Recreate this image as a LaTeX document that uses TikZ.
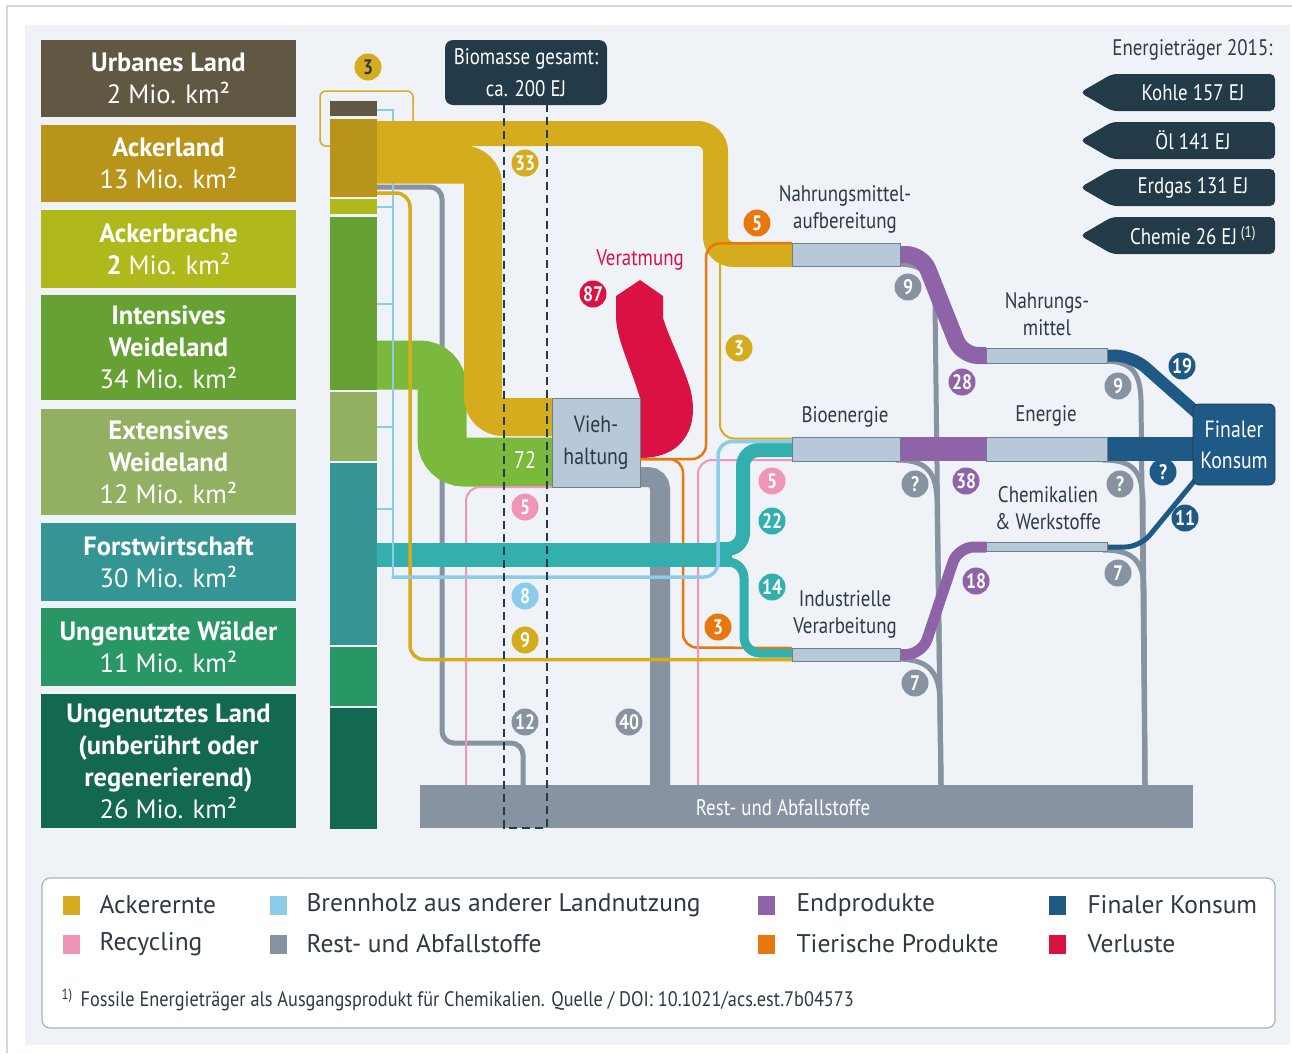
\documentclass[tikz,border=0pt]{standalone}
\usepackage{fontspec}
\setmainfont{PT Sans}
\newfontfamily\cond[FakeStretch=0.84]{PT Sans}
\newfontfamily\condw[FakeStretch=0.87]{PT Sans}
\usetikzlibrary{calc}
\definecolor{bg}{HTML}{EFF3F7}
\definecolor{frame}{HTML}{D3D8DD}
\definecolor{urban}{HTML}{615843}
\definecolor{acker}{HTML}{B8941A}
\definecolor{brache}{HTML}{B0B91C}
\definecolor{intens}{HTML}{66A134}
\definecolor{extens}{HTML}{93AF62}
\definecolor{forst}{HTML}{349594}
\definecolor{wald}{HTML}{299765}
\definecolor{unland}{HTML}{136852}
\definecolor{gold}{HTML}{D4AC1E}
\definecolor{lgreen}{HTML}{7AB93B}
\definecolor{tealc}{HTML}{33B0AE}
\definecolor{lblue}{HTML}{8CCBEA}
\definecolor{pinkc}{HTML}{EE95B8}
\definecolor{orangec}{HTML}{E8770F}
\definecolor{redc}{HTML}{DA1143}
\definecolor{purplec}{HTML}{8E63A7}
\definecolor{dblue}{HTML}{1F5A87}
\definecolor{greyc}{HTML}{8793A0}
\definecolor{navy}{HTML}{233A48}
\definecolor{boxfill}{HTML}{B7C8D8}
\definecolor{boxline}{HTML}{6F7E8C}
\definecolor{txt}{HTML}{2D3A44}
\definecolor{legline}{HTML}{A9B2BA}
\tikzset{
  lab/.style={circle, fill=#1, text=white, minimum size=27pt, inner sep=0pt, font=\cond\bfseries\fontsize{21}{21}\selectfont},
  pbar/.style={draw=boxline, fill=boxfill, line width=0.8pt, inner sep=0pt, outer sep=0pt},
  landbox/.style={fill=#1, text=white, minimum width=255pt, align=center, inner sep=0pt, font=\fontsize{26.5}{32}\selectfont},
  ptext/.style={text=txt, align=center, font=\cond\fontsize{22.5}{27}\selectfont},
  legsq/.style={fill=#1, minimum width=17pt, minimum height=19pt, inner sep=0pt},
  legtxt/.style={anchor=west, text=txt, font=\fontsize{25.5}{25.5}\selectfont},
  etext/.style={text=white, font=\cond\fontsize{22.5}{22.5}\selectfont},
  arrowshape/.style={fill=navy, rounded corners=5pt},
}
\begin{document}
\begin{tikzpicture}[x=1pt,y=-1pt]
\useasboundingbox (0,0) rectangle (1292,1053);
\fill[white] (0,0) rectangle (1292,1053);
\draw[frame, line width=1.5] (7,1053) -- (7,6) -- (1292,6);
\fill[bg] (25,25) rectangle (1290,1045);

% ---------- land boxes
\node[landbox=urban, minimum height=77pt] (lUrban) at (168.5,78.5) {\textbf{Urbanes Land}\\2 Mio. km²};
\node[landbox=acker, minimum height=77pt] (lAcker) at (168.5,163.5) {\textbf{Ackerland}\\13 Mio. km²};
\node[landbox=brache, minimum height=78pt] (lBrache) at (168.5,249) {\textbf{Ackerbrache}\\\textbf{2} Mio. km²};
\node[landbox=intens, minimum height=105pt] (lIntens) at (168.5,347.5) {\textbf{Intensives}\\\textbf{Weideland}\\34 Mio. km²};
\node[landbox=extens, minimum height=106pt] (lExtens) at (168.5,462) {\textbf{Extensives}\\\textbf{Weideland}\\12 Mio. km²};
\node[landbox=forst, minimum height=78pt] (lForst) at (168.5,562) {\textbf{Forstwirtschaft}\\30 Mio. km²};
\node[landbox=wald, minimum height=78pt] (lWald) at (168.5,647) {\textbf{Ungenutzte Wälder}\\11 Mio. km²};
\node[landbox=unland, minimum height=134pt] (lLand) at (168.5,761) {\textbf{Ungenutztes Land}\\\textbf{(unberührt oder}\\\textbf{regenerierend)}\\26 Mio. km²};

% ---------- urban outline + label
\draw[gold, line width=1.5, rounded corners=6] (320,91) rectangle (413,146);
\node[lab=gold, text=txt] (n3u) at (368,67) {3};

% ---------- column
\fill[urban] (330,101) rectangle (377,116);
\fill[acker] (330,119) rectangle (377,197);
\fill[brache] (330,199) rectangle (377,214);
\fill[intens] (330,217) rectangle (377,390);
\fill[extens] (330,392) rectangle (377,461);
\fill[forst] (330,463) rectangle (377,645);
\fill[wald] (330,647) rectangle (377,706);
\fill[unland] (330,708) rectangle (377,829);

% ---------- process nodes
\node[pbar, minimum width=108pt, minimum height=23pt] (nma) at (846,254.5) {};
\node[pbar, minimum width=121pt, minimum height=15pt] (nm) at (1046.5,355.5) {};
\node[pbar, minimum width=108pt, minimum height=24pt] (bio) at (846,449) {};
\node[pbar, minimum width=121pt, minimum height=24pt] (ene) at (1046.5,449) {};
\node[pbar, minimum width=121pt, minimum height=9pt] (chem) at (1046.5,547) {};
\node[pbar, minimum width=108pt, minimum height=13pt] (ind) at (846,654.5) {};
\node[fill=greyc, minimum width=773pt, minimum height=43pt, inner sep=0pt] (rest) at (806.5,806.5) {};

% ---------- column source points
\coordinate (sGoldUp) at (377,133.5);
\coordinate (sGoldLow) at (377,164.5);
\coordinate (sGrey) at (377,187);
\coordinate (sGoldThin) at (377,193);
\coordinate (sGreen) at (377,365);
\coordinate (sTeal) at (377,555);
\coordinate (sBlue) at (393,109.25);

% ---------- grey flows (behind)
\draw[greyc, line width=5, rounded corners=12] (sGrey) -- (442,187) -- (442,743) -- (523,743) -- (523,0 |- rest.north);

% ---------- big bands
\draw[lgreen, line width=49, rounded corners=22] (sGreen) -- (442,365) -- (442,462) -- (575,462);
\foreach \yy in {110,207,304,427,509} \draw[lblue, line width=1.5] (377,\yy) -- (393,\yy);
\draw[lblue, line width=1.8] (sBlue) -- (393,577);
\draw[gold, line width=38, rounded corners=20] (sGoldLow) -- (483,164.5) -- (483,417) -- (575,417);
\draw[gold, line width=25, rounded corners=18] (sGoldUp) -- (715.5,133.5) -- (715.5,254.5) -- (nma.west);

% Viehhaltung outputs
\draw[greyc, line width=20, rounded corners=12] (630,477) -- (660,477) -- (660,0 |- rest.north);
\fill[redc] (640,398) .. controls (630,365) and (617,340) .. (616,318) -- (616,296) -- (640,280) -- (663,296) -- (663,318) .. controls (670,340) and (683,365) .. (690,388) .. controls (700,425) and (685,457) .. (642,458) -- (630,458) -- (630,398) -- cycle;
\node[pbar, minimum width=88pt, minimum height=89pt, align=center, text=txt, font=\cond\fontsize{23.5}{32}\selectfont] (vieh) at (596,442.5) {Vieh-\\haltung};

\draw[orangec, line width=2.5, rounded corners=14] (vieh.east |- 0,459) -- (706,459) -- (706,243.5) -- (nma.north west);
\draw[orangec, line width=2.5, rounded corners=14] (vieh.east |- 0,459) -- (683,459) -- (683,647.5) -- (ind.north west);
\draw[gold, line width=2, rounded corners=14] (720,262) -- (720,438.5) -- (bio.north west |- 0,438.5);
\draw[pinkc, line width=2, rounded corners=14] (466,0 |- rest.north) -- (466,487) -- (vieh.south west);
\draw[pinkc, line width=2, rounded corners=14] (698,0 |- rest.north) -- (698,460) -- (bio.south west |- 0,460);

% teal
\draw[tealc, line width=24] (sTeal) -- (732,555);
\draw[tealc, line width=14, rounded corners=16] (715,549) -- (743,549) -- (743,450) -- (bio.west |- 0,450);
\draw[tealc, line width=9, rounded corners=16] (715,562) -- (744,562) -- (744,653) -- (ind.west |- 0,653);
\draw[lblue, line width=1.8] (393,490) -- (393,577);

% thin gold 9 and blue
\draw[gold, line width=3.5, rounded corners=14] (sGoldThin) -- (410,193) -- (410,659.5) -- (ind.south west |- 0,659.5);
\draw[lblue, line width=3.5, rounded corners=14] (391.5,577) -- (718,577) -- (718,441.5) -- (bio.west |- 0,441.5);

% outputs to rest
\draw[greyc, line width=5] (896,264) .. controls (925,264) and (934,275) .. (935,305) -- (941,0 |- rest.north);
\draw[greyc, line width=5] (896,460) .. controls (925,460) and (936,470) .. (937,500) -- (941,0 |- rest.north);
\draw[greyc, line width=5] (896,659) .. controls (925,659) and (939,668) .. (940,700) -- (941,0 |- rest.north);
\draw[greyc, line width=5] (1103,361) .. controls (1132,361) and (1140,372) .. (1141,400) -- (1145,0 |- rest.north);
\draw[greyc, line width=5] (1103,460) .. controls (1132,460) and (1142,470) .. (1143,500) -- (1145,0 |- rest.north);
\draw[greyc, line width=5] (1103,550) .. controls (1132,550) and (1144,560) .. (1144,590) -- (1145,0 |- rest.north);

% purple
\draw[purplec, line width=17, rounded corners=16] (nma.east) -- (922,254.5) -- (962,355.5) -- (nm.west);
\draw[purplec, line width=24] (bio.east) -- (ene.west);
\draw[purplec, line width=11, rounded corners=16] (ind.east) -- (922,654.5) -- (958,547) -- (chem.west);

% dark blue to final consumption
\draw[dblue, line width=12, rounded corners=18] (nm.east) -- (1132,355.5) -- (1205,420);
\draw[dblue, line width=24] (ene.east) -- (1205,449);
\draw[dblue, line width=5, rounded corners=15] (chem.east) -- (1140,547) -- (1205,468);
\node[fill=dblue, draw=navy, line width=0.8, rounded corners=6, minimum width=82pt, minimum height=81pt, inner sep=0pt, text=white, align=center, font=\cond\fontsize{23.5}{31}\selectfont] (fk) at (1234,444.5) {Finaler\\Konsum};

% redraw boxes on top
\node[pbar, minimum width=108pt, minimum height=23pt] (nmaT) at (nma) {};
\node[pbar, minimum width=121pt, minimum height=15pt] (nmT) at (nm) {};
\node[pbar, minimum width=108pt, minimum height=24pt] (bioT) at (bio) {};
\node[pbar, minimum width=121pt, minimum height=24pt] (eneT) at (ene) {};
\node[pbar, minimum width=121pt, minimum height=9pt] (chemT) at (chem) {};
\node[pbar, minimum width=108pt, minimum height=13pt] (indT) at (ind) {};
\node[text=white, font=\cond\fontsize{22.5}{22.5}\selectfont] (restT) at (783,808) {Rest- und Abfallstoffe};

% process labels
\node[ptext] (tNma) at (845,209) {Nahrungsmittel-\\aufbereitung};
\node[ptext] (tNm) at (1047,314) {Nahrungs-\\mittel};
\node[ptext] (tBio) at (845,417) {Bioenergie};
\node[ptext] (tEne) at (1046,416) {Energie};
\node[ptext] (tChem) at (1048,508) {Chemikalien\\\& Werkstoffe};
\node[ptext] (tInd) at (845,614) {Industrielle\\Verarbeitung};
\node[text=redc, font=\cond\fontsize{22.5}{22.5}\selectfont] (tVer) at (640,260) {Veratmung};
\node[text=white, font=\cond\fontsize{24}{24}\selectfont] (t72) at (525,460) {72};

% biomass column
\node[fill=navy, rounded corners=8, minimum width=162pt, minimum height=65pt, inner sep=0pt, text=white, align=center, font=\cond\fontsize{22.5}{32}\selectfont] (biom) at (526,72.5) {Biomasse gesamt:\\ca. 200 EJ};
\draw[navy, line width=1.4, dash pattern=on 8pt off 5pt] (504,0 |- biom.south) -- (504,828) -- (547,828) -- (547,0 |- biom.south);

% number labels
\node[lab=gold] (n33) at (525,163) {33};
\node[lab=pinkc] (n5p) at (525,507) {5};
\node[lab=lblue] (n8) at (525,596) {8};
\node[lab=gold] (n9g) at (525,640) {9};
\node[lab=greyc] (n12) at (525,722) {12};
\node[lab=greyc] (n40) at (629,722) {40};
\node[lab=redc] (n87) at (593,294) {87};
\node[lab=orangec] (n5o) at (757,223) {5};
\node[lab=gold] (n3g) at (739,348) {3};
\node[lab=greyc] (n9a) at (908,287) {9};
\node[lab=purplec] (n28) at (962,382) {28};
\node[lab=greyc] (n9b) at (1118,386) {9};
\node[lab=dblue] (n19) at (1182,366) {19};
\node[lab=pinkc] (n5b) at (772,481) {5};
\node[lab=tealc] (n22) at (772,521) {22};
\node[lab=tealc] (n14) at (772,587) {14};
\node[lab=orangec] (n3o) at (718,627) {3};
\node[lab=greyc] (nqa) at (915,484) {?};
\node[lab=purplec] (n38) at (966,481) {38};
\node[lab=greyc] (nqb) at (1120,484) {?};
\node[lab=dblue] (nqc) at (1163,472) {?};
\node[lab=dblue] (n11) at (1185,518) {11};
\node[lab=purplec] (n18) at (976,581) {18};
\node[lab=greyc] (n7a) at (1118,573) {7};
\node[lab=greyc] (n7b) at (915,683) {7};

% energy carriers
\node[anchor=east, text=txt, font=\cond\fontsize{22.5}{22.5}\selectfont] (eTitle) at (1276,50) {Energieträger 2015:};
\fill[arrowshape] (1080,92.5) -- (1112,74) -- (1275,74) -- (1275,111) -- (1112,111) -- cycle;
\node[etext] (eKohle) at (1193,92.5) {Kohle 157 EJ};
\fill[arrowshape] (1080,140.5) -- (1112,122) -- (1275,122) -- (1275,159) -- (1112,159) -- cycle;
\node[etext] (eOel) at (1193,140.5) {Öl 141 EJ};
\fill[arrowshape] (1080,187.5) -- (1112,169) -- (1275,169) -- (1275,206) -- (1112,206) -- cycle;
\node[etext] (eGas) at (1193,187.5) {Erdgas 131 EJ};
\fill[arrowshape] (1080,235.5) -- (1112,217) -- (1275,217) -- (1275,254) -- (1112,254) -- cycle;
\node[etext] (eChem) at (1193,235.5) {Chemie 26 EJ\,\textsuperscript{(1)}};

% legend
\draw[legline, fill=white, line width=1.2, rounded corners=8] (42,878) rectangle (1275,1028);
\node[legsq=gold] (lg1) at (71,905) {};
\node[legtxt] (lt1) at (96,905) {Ackerernte};
\node[legsq=lblue] (lg2) at (278,905) {};
\node[legtxt] (lt2) at (303,905) {Brennholz aus anderer Landnutzung};
\node[legsq=purplec] (lg3) at (766,905) {};
\node[legtxt] (lt3) at (793,905) {Endprodukte};
\node[legsq=dblue] (lg4) at (1057,905) {};
\node[legtxt] (lt4) at (1084,905) {Finaler Konsum};
\node[legsq=pinkc] (lg5) at (71,944) {};
\node[legtxt] (lt5) at (96,944) {Recycling};
\node[legsq=greyc] (lg6) at (278,944) {};
\node[legtxt] (lt6) at (303,944) {Rest- und Abfallstoffe};
\node[legsq=orangec] (lg7) at (766,944) {};
\node[legtxt] (lt7) at (793,944) {Tierische Produkte};
\node[legsq=redc] (lg8) at (1057,944) {};
\node[legtxt] (lt8) at (1084,944) {Verluste};
\node[anchor=west, text=txt, font=\condw\fontsize{21}{21}\selectfont] (foot) at (58,1000) {\textsuperscript{1)}\hspace{8pt}Fossile Energieträger als Ausgangsprodukt für Chemikalien. Quelle / DOI: 10.1021/acs.est.7b04573};
\end{tikzpicture}
\end{document}
